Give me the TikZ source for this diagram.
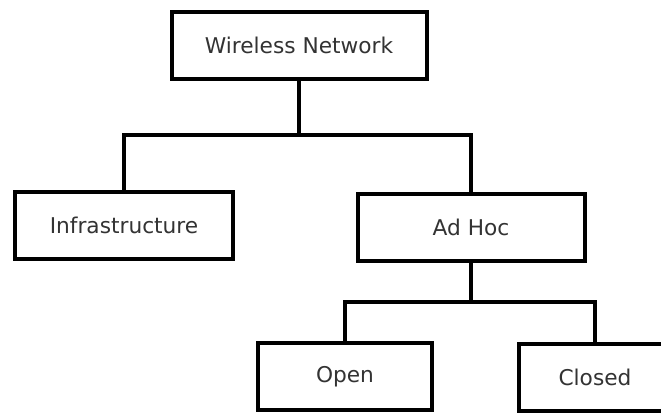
\documentclass[tikz,border=0pt]{standalone}
\usepackage{fontspec}
\setmainfont{DejaVu Sans}
\usepackage{tikz}
\usetikzlibrary{positioning,calc}
\usepackage{xcolor}
\definecolor{ink}{HTML}{000000}
\definecolor{txt}{HTML}{333333}
\tikzset{
  box/.style={draw=ink, line width=4pt, fill=white, text=txt, align=center, minimum height=67pt, inner sep=0pt, font=\fontsize{21.7}{26}\selectfont},
  link/.style={draw=ink, line width=4pt}
}

\begin{document}
\begin{tikzpicture}[x=1pt, y=-1pt]
  \clip (0,0) rectangle (661,415);
  \node[box, minimum width=255pt] (wlan) at (299,45) {Wireless Network};
  \node[box, minimum width=218pt] (infra) at (124,225) {Infrastructure};
  \node[box, minimum width=227pt] (adhoc) at (471,227) {Ad Hoc};
  \node[box, minimum width=174pt] (open) at (345,376.5) {Open};
  \node[box, minimum width=152pt] (closed) at (595,377) {Closed};
  \coordinate (bus1) at (299,135);
  \coordinate (bus2) at (471,302);
  \draw[link] (wlan.south) -- (bus1);
  \draw[link] (bus1) -| (infra.north);
  \draw[link] (bus1) -| (adhoc.north);
  \draw[link] (adhoc.south) -- (bus2);
  \draw[link] (bus2) -| (open.north);
  \draw[link] (bus2) -| (closed.north);
\end{tikzpicture}
\end{document}
